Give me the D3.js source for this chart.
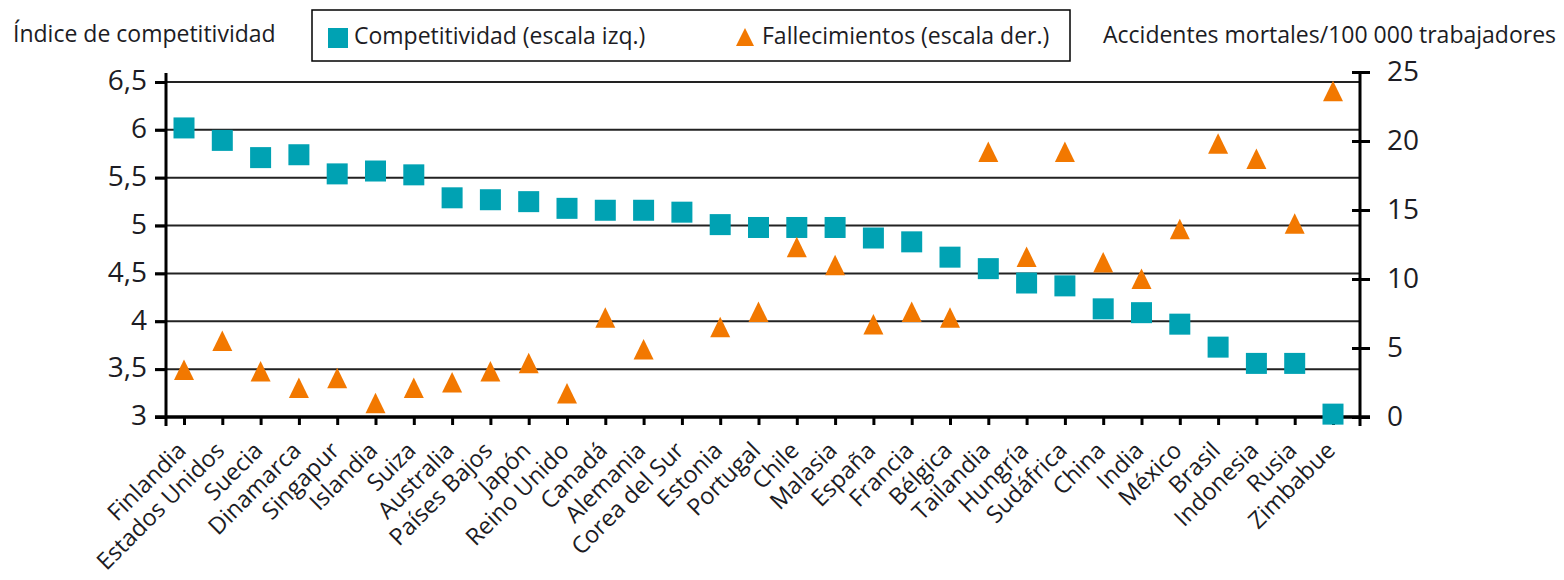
<!DOCTYPE html>
<html>
<head>
<meta charset="utf-8">
<script src="https://cdn.jsdelivr.net/npm/d3@7"></script>
<style>
  body { margin: 0; background: #fff; }
  svg { display: block; font-family: 'Open Sans', sans-serif; }
</style>
</head>
<body>
<svg id="chart" width="1564" height="580"></svg>
<script>
// data
var paises = ['Finlandia', 'Estados Unidos', 'Suecia', 'Dinamarca', 'Singapur', 'Islandia', 'Suiza',
  'Australia', 'Países Bajos', 'Japón', 'Reino Unido', 'Canadá', 'Alemania', 'Corea del Sur', 'Estonia',
  'Portugal', 'Chile', 'Malasia', 'España', 'Francia', 'Bélgica', 'Tailandia', 'Hungría', 'Sudáfrica',
  'China', 'India', 'México', 'Brasil', 'Indonesia', 'Rusia', 'Zimbabue']
var competitividad = [6.02, 5.89, 5.71, 5.74, 5.54, 5.57, 5.53, 5.29, 5.27, 5.25, 5.18, 5.16, 5.16, 5.14,
  5.01, 4.98, 4.98, 4.98, 4.87, 4.83, 4.67, 4.55, 4.40, 4.37, 4.13, 4.09, 3.97, 3.73, 3.56, 3.56, 3.03]
var fallecimientos = [3.4, 5.5, 3.3, 2.1, 2.8, 1.0, 2.1, 2.5, 3.3, 3.9, 1.7, 7.2, 4.9, null, 6.5,
  7.6, 12.3, 11.0, 6.7, 7.6, 7.2, 19.2, 11.6, 19.2, 11.2, 10.0, 13.6, 19.8, 18.7, 14.0, 23.6]
var ticksIzq = [3, 3.5, 4, 4.5, 5, 5.5, 6, 6.5]
var ticksDer = [0, 5, 10, 15, 20, 25]

var tituloIzq = 'Índice de competitividad'
var tituloDer = 'Accidentes mortales/100 000 trabajadores'
var leyenda = ['Competitividad (escala izq.)', 'Fallecimientos (escala der.)']

// colours
var colorComp = '#00a2b3'
var colorFall = '#f27800'
var colorText = '#1c1c24'

var svg = d3.select('#chart')

var x = d3.scalePoint().domain(paises).range([184, 1333])
var yL = d3.scaleLinear().domain([3, 6.5]).range([417, 82])
var yR = d3.scaleLinear().domain([0, 25]).range([417, 72])

var xLeft = 166, xRight = 1360

// grid lines
svg.append('g').selectAll('line')
  .data(ticksIzq.slice(1))
  .enter().append('line')
  .attr('x1', 155).attr('x2', xRight)
  .attr('y1', function(d) { return yL(d) }).attr('y2', function(d) { return yL(d) })
  .attr('stroke', '#222').attr('stroke-width', 2)

// left axis
var gL = svg.append('g').attr('transform', 'translate(' + xLeft + ',0)')
  .call(d3.axisLeft(yL).tickValues(ticksIzq).tickSize(11).tickPadding(8)
    .tickFormat(function(d) { return String(d).replace('.', ',') }))
gL.select('.domain').remove()
gL.selectAll('.tick line').attr('stroke', '#000').attr('stroke-width', 3)
gL.selectAll('.tick text').attr('font-size', 28).attr('fill', colorText)
  .attr('font-family', 'Open Sans, sans-serif').attr('dy', '0.28em')
svg.append('line').attr('x1', xLeft).attr('x2', xLeft).attr('y1', 73).attr('y2', 426)
  .attr('stroke', '#000').attr('stroke-width', 3)

// right axis
var gR = svg.append('g').attr('transform', 'translate(' + xRight + ',0)')
  .call(d3.axisRight(yR).tickValues(ticksDer).tickSize(10).tickPadding(17))
gR.select('.domain').remove()
gR.selectAll('.tick line').attr('x1', -8).attr('stroke', '#000').attr('stroke-width', 3)
gR.selectAll('.tick text').attr('font-size', 28).attr('fill', colorText)
  .attr('font-family', 'Open Sans, sans-serif').attr('dy', '0.3em')
svg.append('line').attr('x1', xRight).attr('x2', xRight).attr('y1', 72).attr('y2', 426)
  .attr('stroke', '#000').attr('stroke-width', 3)

// bottom axis
var gB = svg.append('g').attr('transform', 'translate(0,417)')
  .call(d3.axisBottom(x).tickSize(8).tickFormat(function(d) { return d }))
gB.select('.domain').remove()
gB.selectAll('.tick line').attr('stroke', '#000').attr('stroke-width', 3)
gB.selectAll('.tick text')
  .attr('font-size', 23.5).attr('fill', colorText).attr('font-family', 'Open Sans, sans-serif')
  .attr('text-anchor', 'end').attr('y', 0).attr('dy', 0)
  .attr('transform', 'translate(3,35) rotate(-45)')
svg.append('line').attr('x1', 155).attr('x2', 1370).attr('y1', 417).attr('y2', 417)
  .attr('stroke', '#000').attr('stroke-width', 3.5)

// competitividad squares
var sq = 21
svg.append('g').selectAll('rect')
  .data(competitividad)
  .enter().append('rect')
  .attr('x', function(d, i) { return x(paises[i]) - sq / 2 })
  .attr('y', function(d) { return yL(d) - sq / 2 })
  .attr('width', sq).attr('height', sq)
  .attr('fill', colorComp)

// fallecimientos triangles
function tri(cx, cy) {
  return 'M' + cx + ',' + (cy - 10.5) + 'L' + (cx + 10) + ',' + (cy + 10) + 'L' + (cx - 10) + ',' + (cy + 10) + 'Z'
}
svg.append('g').selectAll('path')
  .data(fallecimientos.map(function(v, i) { return { pais: paises[i], v: v } })
    .filter(function(d) { return d.v != null }))
  .enter().append('path')
  .attr('d', function(d) { return tri(x(d.pais), yR(d.v)) })
  .attr('fill', colorFall)

// titles
svg.append('text').attr('x', 13).attr('y', 42).attr('font-size', 23).attr('fill', colorText)
  .text(tituloIzq)
svg.append('text').attr('x', 1103).attr('y', 43).attr('font-size', 23).attr('fill', colorText)
  .text(tituloDer)

// legend
svg.append('rect').attr('x', 312).attr('y', 10).attr('width', 758).attr('height', 51)
  .attr('fill', 'none').attr('stroke', '#000').attr('stroke-width', 1.5)
svg.append('rect').attr('x', 328).attr('y', 28).attr('width', 20).attr('height', 20).attr('fill', colorComp)
svg.append('text').attr('x', 354).attr('y', 44).attr('font-size', 23).attr('fill', colorText).text(leyenda[0])
svg.append('path').attr('d', 'M745,28L754,46L736,46Z').attr('fill', colorFall)
svg.append('text').attr('x', 762).attr('y', 44).attr('font-size', 23).attr('fill', colorText).text(leyenda[1])
</script>
</body>
</html>
